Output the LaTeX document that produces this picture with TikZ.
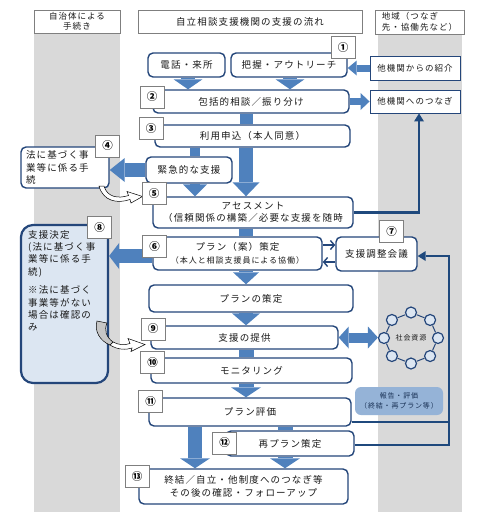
\documentclass[tikz,border=0pt]{standalone}
\usepackage{fontspec}
\setmainfont[LetterSpace=12]{Noto Sans CJK JP}
\usetikzlibrary{arrows.meta,calc}
\definecolor{navy}{HTML}{24467A}
\definecolor{lnav}{HTML}{1F497D}
\definecolor{blk}{HTML}{4F81BD}
\definecolor{grayc}{HTML}{D9D9D9}
\definecolor{tagb}{HTML}{7F7F7F}
\definecolor{lightb}{HTML}{DCE6F2}
\definecolor{repb}{HTML}{95B3D7}
\definecolor{txt}{HTML}{1A1A1A}
\newcommand{\fsz}[2]{\fontsize{#1}{#2}\selectfont}
\tikzset{
 box/.style={draw=navy, line width=1.4pt, rounded corners=5pt, fill=white, inner sep=0pt, align=center, text=txt, font=\fsz{9.5}{12}},
 tagbox/.style={draw=tagb, line width=0.6pt, fill=white, inner sep=0pt, minimum width=24pt, minimum height=22pt, text=black, font=\fsz{10.5}{10}\bfseries},
 hdr/.style={draw=tagb, line width=0.9pt, fill=white, inner sep=0pt, align=center, text=txt},
 ext/.style={draw=navy, line width=0.9pt, fill=white, inner sep=0pt, text=txt, font=\fsz{8.5}{10}},
 bar/.style={draw=blk, line width=#1},
 hd/.style={-{Triangle[line width=0pt,#1]}},
 hdd/.style={{Triangle[line width=0pt,#1]}-{Triangle[line width=0pt,#1]}},
 conn/.style={draw=lnav, line width=2.6pt},
 thinarr/.style={draw=navy, line width=1.4pt, -{Straight Barb[length=4pt,width=9pt]}},
 ringc/.style={circle, draw=navy, line width=1.2pt, fill=lightb, minimum size=11pt, inner sep=0pt},
 curv/.style={draw=black, line width=0.5pt, fill=white}
}
\begin{document}
\begin{tikzpicture}[x=1pt,y=-1pt]
\useasboundingbox (0,0) rectangle (484,517);
\fill[white] (0,0) rectangle (484,517);
% columns
\fill[grayc] (34,33) rectangle (120,512);
\fill[grayc] (378,34) rectangle (462,512);
% headers
\node[hdr, minimum width=86pt, minimum height=23pt, font=\fsz{8.5}{9.5}] (hL) at (77,21.5) {自治体による\\手続き};
\node[hdr, minimum width=224pt, minimum height=23pt, font=\fsz{9.5}{11}] (hM) at (250,21.5) {自立相談支援機関の支援の流れ};
\node[hdr, minimum width=89pt, minimum height=24pt, font=\fsz{8.5}{11}, align=left] (hR) at (419.5,22) {地域（つなぎ\\先・協働先など）};
% x guides
\coordinate (X188) at (188,0);
\coordinate (X290) at (290,0);
\coordinate (X246) at (246,0);
\coordinate (X195) at (195,0);
\coordinate (X285) at (285,0);
\coordinate (X419) at (419,0);
\coordinate (X449) at (449,0);
% main boxes
\node[box, minimum width=77pt, minimum height=24pt] (tel) at (186.5,65) {電話・来所};
\node[box, minimum width=116pt, minimum height=24pt] (hak) at (289,65) {把握・アウトリーチ};
\node[box, minimum width=196pt, minimum height=23pt] (hok) at (251,101.5) {包括的相談／振り分け};
\node[box, minimum width=195pt, minimum height=22pt] (riy) at (252.5,136) {利用申込（本人同意）};
\node[box, minimum width=86pt, minimum height=26pt] (kin) at (189,170) {緊急的な支援};
\node[box, minimum width=88pt, minimum height=41pt, align=left, text width=78pt, font=\fsz{9.5}{12.5}] (hou) at (65,167.5) {法に基づく事\\業等に係る手\\続};
\node[box, minimum width=200pt, minimum height=31pt, font=\fsz{9.5}{12}] (ase) at (253,212.5) {アセスメント\\（信頼関係の構築／必要な支援を随時};
\node[box, minimum width=169pt, minimum height=33pt, font=\fsz{9.5}{13}] (pan) at (237.5,253.5) {プラン（案）策定\\{\fsz{8}{10}（本人と相談支援員による協働）}};
\node[box, minimum width=81pt, minimum height=34pt] (cho) at (376.5,254) {支援調整会議};
\node[box, minimum width=204pt, minimum height=27pt] (pls) at (251,298.5) {プランの策定};
\node[box, minimum width=187pt, minimum height=23pt] (tei) at (244.5,337.5) {支援の提供};
\node[box, minimum width=201pt, minimum height=25pt] (mon) at (251.5,370.5) {モニタリング};
\node[box, minimum width=202pt, minimum height=28pt] (hyo) at (250,412) {プラン評価};
\node[box, minimum width=128pt, minimum height=25pt] (sai) at (290,443.5) {再プラン策定};
\node[box, minimum width=209pt, minimum height=35pt, font=\fsz{9.5}{13}] (shu) at (243.5,486.5) {終結／自立・他制度へのつなぎ等\\その後の確認・フォローアップ};
\node[box, fill=lightb, line width=2.2pt, rounded corners=12pt, minimum width=87pt, minimum height=158pt] (ket) at (64.5,304) {};
\node[anchor=north west, inner sep=0pt, align=left, text=txt, font=\fsz{9.5}{12.4}] (kett) at (28,230) {支援決定\\(法に基づく事\\業等に係る手\\続)\\[6pt]※法に基づく\\事業等がない\\場合は確認の\\み};
% right column
\node[ext, minimum width=90pt, minimum height=24pt] (shk) at (415,68) {他機関からの紹介};
\node[ext, minimum width=90pt, minimum height=23pt] (tsn) at (415,101.5) {他機関へのつなぎ};
\node[fill=repb, rounded corners=6pt, minimum width=88pt, minimum height=28pt, inner sep=0pt, align=center, text=navy!70!black, font=\fsz{7}{10}] (rep) at (399,401) {報告・評価\\（終結・再プラン等）};
% ring of social resources
\foreach \a [count=\i] in {0,45,...,315} {
  \node[ringc] (c\i) at ($(411,338)+(\a:27 and 25.5)$) {};
}
\draw[navy, line width=1pt] (c1) -- (c2) -- (c3) -- (c4) -- (c5) -- (c6) -- (c7) -- (c8) -- (c1);
\node[inner sep=0pt, text=txt, font=\fsz{7}{7}] (sk) at (411,338) {社会資源};
% block arrows
\draw[bar=14pt, hd={length=10pt,width=29pt}] (X188 |- tel.south) -- (X188 |- hok.north);
\draw[bar=14pt, hd={length=10pt,width=29pt}] (X290 |- hak.south) -- (X290 |- hok.north);
\draw[bar=13pt] (X246 |- hok.south) -- (X246 |- riy.north);
\draw[bar=10pt] (X195 |- riy.south) -- (X195 |- kin.north);
\draw[bar=10pt, hd={length=12pt,width=24pt}] (X195 |- kin.south) -- (X195 |- ase.north);
\draw[bar=14pt, hd={length=14pt,width=27pt}] (X246 |- riy.south) -- (X246 |- ase.north);
\draw[bar=14pt] (X246 |- ase.south) -- (X246 |- pan.north);
\draw[bar=14pt, hd={length=12pt,width=26pt}] (X246 |- pan.south) -- (X246 |- pls.north);
\draw[bar=14pt, hd={length=12pt,width=28pt}] (X246 |- pls.south) -- (X246 |- tei.north);
\draw[bar=15pt] (X246 |- tei.south) -- (X246 |- mon.north);
\draw[bar=15pt, hd={length=10pt,width=30pt}] (X246 |- mon.south) -- (X246 |- hyo.north);
\draw[bar=14pt, hd={length=10pt,width=30pt}] (X195 |- hyo.south) -- (X195 |- shu.north);
\draw[bar=15pt] (X285 |- hyo.south) -- (X285 |- sai.north);
\draw[bar=15pt, hd={length=10pt,width=30pt}] (X285 |- sai.south) -- (X285 |- shu.north);
\draw[bar=14pt, hd={length=15pt,width=24pt}] (kin.west) -- (kin.west -| hou.east);
\coordinate (pw) at ([yshift=-2.5pt]pan.west);
\draw[bar=14pt, hd={length=10pt,width=26pt}] (pw) -- (pw -| ket.east);
\draw[bar=7pt, hd={length=9pt,width=17pt}] (hok.east) -- (hok.east -| tsn.west);
\draw[bar=7pt, hd={length=9pt,width=15pt}] (shk.west) -- (shk.west -| hak.east);
\draw[bar=10pt, hdd={length=10pt,width=22pt}] (tei.east) -- (tei.east -| c5.west);
% thin arrows
\coordinate (pa1) at ([yshift=8.5pt]pan.east);
\coordinate (pa2) at ([yshift=-8.5pt]pan.east);
\draw[thinarr] (pa1) -- (pa1 -| cho.west);
\draw[thinarr] (pa2 -| cho.west) -- (pa2);
% connectors
\draw[conn, -{Triangle[length=8pt,width=10pt,line width=0pt]}] (ase.east) -- (ase.east -| X419) -- (X419 |- tsn.south);
\coordinate (se) at ([yshift=-1.5pt]sai.east);
\coordinate (he) at ([yshift=-10pt]hyo.east);
\coordinate (ce) at ([yshift=-2pt]cho.east);
\draw[conn, -{Triangle[length=8pt,width=10pt,line width=0pt]}] (se) -- (se -| X449) -- (X449 |- ce) -- (ce);
\draw[conn] (he) -- (he -| X449);
% curved hollow arrows
\draw[curv] (99,186) .. controls (103,201) and (117,204) .. (130,199.5) -- (131,203) -- (142.5,196.5) -- (127,191.5) -- (128.5,195.5) .. controls (118,199) and (107,197) .. (104,186) -- cycle;
\draw[curv] (110,345) .. controls (118,350) and (126,350) .. (132,348) -- (131,351.5) -- (145,344.5) -- (128,338.5) -- (130,343.5) .. controls (124,345.5) and (119,345) .. (113,342) -- cycle;
\draw[curv, fill=gray!45] (97,321) .. controls (94,331) and (100,341) .. (110,345) -- (113,342) .. controls (106,337) and (104,330) .. (107,323) -- cycle;
% tags
\node[tagbox] (t1) at (343,47.5) {①};
\node[tagbox] (t2) at (152,97) {②};
\node[tagbox] (t3) at (151,128.5) {③};
\node[tagbox] (t4) at (107.5,146) {④};
\node[tagbox] (t5) at (154,193.5) {⑤};
\node[tagbox] (t6) at (154.5,246.5) {⑥};
\node[tagbox] (t7) at (391.5,231.5) {⑦};
\node[tagbox] (t8) at (99.5,227.5) {⑧};
\node[tagbox] (t9) at (153,329) {⑨};
\node[tagbox] (t10) at (152.5,362.5) {⑩};
\node[tagbox] (t11) at (150.5,401.5) {⑪};
\node[tagbox] (t12) at (224.5,443) {⑫};
\node[tagbox] (t13) at (137,476.5) {⑬};
\end{tikzpicture}
\end{document}
